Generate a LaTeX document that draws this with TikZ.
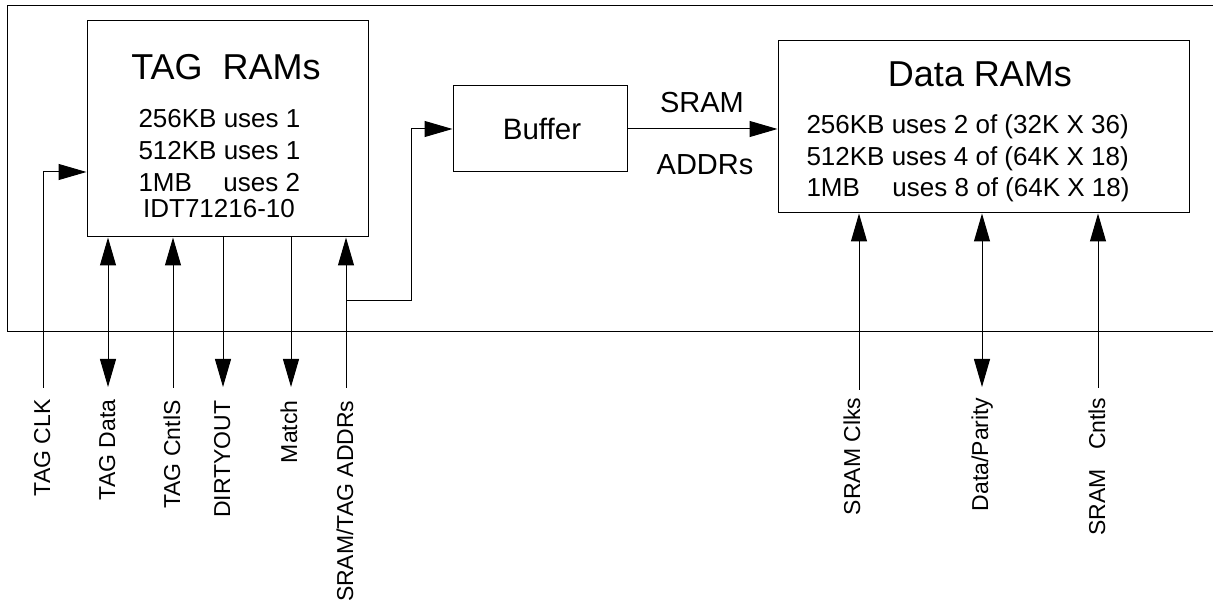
\documentclass[tikz,border=0pt]{standalone}
\usepackage{fontspec}
\setmainfont{Liberation Sans}
\usetikzlibrary{arrows.meta}
\begin{document}
\begin{tikzpicture}[x=1pt,y=-1pt,
  line width=1pt,
  arr/.style={-{Triangle[length=28pt,width=16pt]}},
  darr/.style={{Triangle[length=28pt,width=16pt]}-{Triangle[length=28pt,width=16pt]}},
  box/.style={draw, inner sep=0pt},
  lbl/.style={rotate=90, anchor=base east, inner sep=0pt, font=\fontsize{23}{28}\selectfont},
  body/.style={anchor=base west, inner sep=0pt, font=\fontsize{26}{31}\selectfont},
  ttl/.style={anchor=base, inner sep=0pt, font=\fontsize{36}{42}\selectfont},
  mid/.style={anchor=base, inner sep=0pt, font=\fontsize{29}{34}\selectfont}]
\useasboundingbox (0,0) rectangle (1213,609);

% outer frame (open on the right)
\coordinate (ftr) at (1213,6);
\coordinate (ftl) at (7,6);
\coordinate (fbl) at (7,332);
\coordinate (fbr) at (1213,332);
\draw (ftr) -- (ftl) -- (fbl) -- (fbr);

% boxes
\node[box, minimum width=281pt, minimum height=216pt] (tag) at (227.5,129) {};
\node[box, minimum width=174pt, minimum height=86pt] (buf) at (540,129) {};
\node[box, minimum width=411pt, minimum height=172pt] (dat) at (983.5,127) {};

% TAG RAMs text
\node[ttl] (tagt) at (226,80) {TAG\ \ RAMs};
\node[body] (tag1) at (138,128) {256KB uses 1};
\node[body] (tag2) at (138,160) {512KB uses 1};
\node[body] (tag3) at (138,192) {\hbox to 85pt{1MB\hfill}uses 2};
\node[anchor=base, inner sep=0pt, font=\fontsize{26}{31}\selectfont] (tag4) at (219,218) {IDT71216-10};

% Buffer text
\node[mid, font=\fontsize{29.5}{34}\selectfont] (buft) at (542,140) {Buffer};

% SRAM ADDRs labels
\node[mid] (sram) at (702,113) {SRAM};
\node[mid] (addr) at (705,175) {ADDRs};

% Data RAMs text
\node[ttl] (datt) at (980,87) {Data RAMs};
\node[body] (dat1) at (806,134) {256KB uses 2 of (32K X 36)};
\node[body] (dat2) at (806,166) {512KB uses 4 of (64K X 18)};
\node[body] (dat3) at (806,197) {\hbox to 86pt{1MB\hfill}uses 8 of (64K X 18)};

% pin coordinates
\coordinate (pclk) at (43,388);
\coordinate (tclk) at (87,172);
\coordinate (pdat) at (108,387);
\coordinate (pctl) at (173,388);
\coordinate (pdir) at (223,387);
\coordinate (pmat) at (291,387);
\coordinate (padr) at (346,388);
\coordinate (bra) at (346,301);
\coordinate (brb) at (411,301);
\coordinate (brc) at (411,129);
\coordinate (pclks) at (859,390);
\coordinate (ppar) at (982,387);
\coordinate (pcnt) at (1098,388);

% connectors
\draw[arr] (pclk) |- (tag.west |- tclk);
\draw[darr] (pdat) -- (pdat |- tag.south);
\draw[arr] (pctl) -- (pctl |- tag.south);
\draw[arr] (pdir |- tag.south) -- (pdir);
\draw[arr] (pmat |- tag.south) -- (pmat);
\draw[arr] (padr) -- (padr |- tag.south);
\draw[arr] (bra) -- (brb) -- (brc) -- (buf.west);
\draw[arr] (buf.east) -- (dat.west |- buf.east);
\draw[arr] (pclks) -- (pclks |- dat.south);
\draw[darr] (ppar) -- (ppar |- dat.south);
\draw[arr] (pcnt) -- (pcnt |- dat.south);

% pin labels
\node[lbl] (lclk) at (50,399) {TAG CLK};
\node[lbl] (ldat) at (115,399) {TAG Data};
\node[lbl] (lctl) at (180,400) {TAG CntlS};
\node[lbl] (ldir) at (230,400) {DIRTYOUT};
\node[lbl] (lmat) at (297,400) {Match};
\node[lbl] (ladr) at (353,400) {SRAM/TAG ADDRs};
\node[lbl] (lclks) at (860,397) {SRAM Clks};
\node[lbl] (lpar) at (988,397) {Data/Parity};
\node[lbl] (lcnt) at (1105,397) {SRAM\ \ \ Cntls};
\end{tikzpicture}
\end{document}
